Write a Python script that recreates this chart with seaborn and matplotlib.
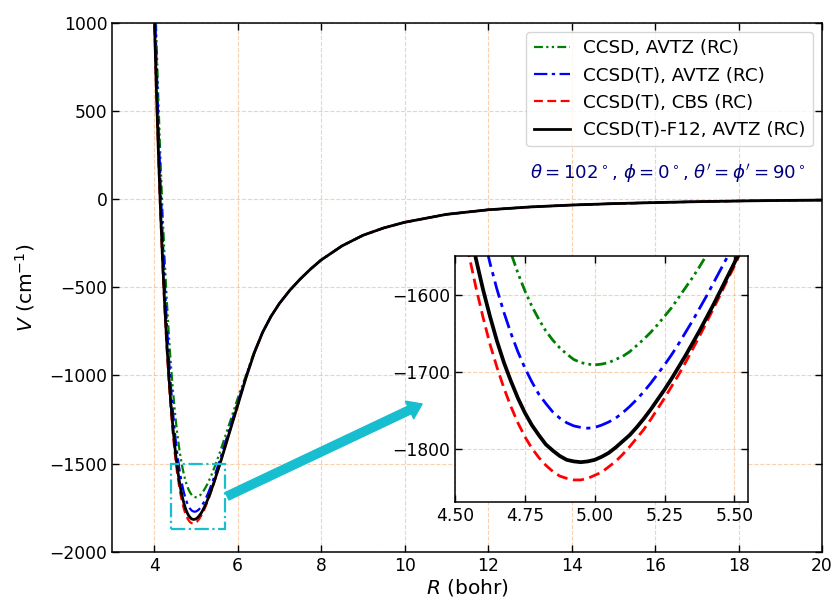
import numpy as np
import pandas as pd
import matplotlib
matplotlib.use("Agg")
import matplotlib.pyplot as plt
import seaborn as sns
from matplotlib.patches import Rectangle

# ---------------- data ----------------
R_core = [3.95, 4.00, 4.05, 4.10, 4.15, 4.20, 4.25, 4.30, 4.35, 4.40, 4.45, 4.50,
          4.525, 4.55, 4.575, 4.60, 4.625, 4.65, 4.675, 4.70, 4.725, 4.75, 4.775,
          4.80, 4.825, 4.85, 4.875, 4.90, 4.925, 4.95, 4.975, 5.00, 5.025, 5.05,
          5.075, 5.10, 5.125, 5.15, 5.175, 5.20, 5.225, 5.25, 5.275, 5.30, 5.325,
          5.35, 5.375, 5.40, 5.425, 5.45, 5.475, 5.50, 5.525, 5.55, 5.575, 5.60,
          5.70, 5.80, 5.90, 6.00, 6.20, 6.40]

V_ccsd_avtz = [1888, 1397, 964, 579, 240, -61, -325, -556, -757, -931, -1081, -1210,
               -1267, -1319, -1366, -1410, -1449, -1485, -1517, -1546, -1572, -1595, -1615,
               -1632, -1647, -1659, -1669, -1677, -1684, -1688, -1690, -1691, -1690, -1688,
               -1684, -1680, -1674, -1666, -1658, -1649, -1639, -1628, -1617, -1604, -1591,
               -1578, -1564, -1549, -1534, -1519, -1503, -1486, -1470, -1453, -1436, -1419,
               -1348, -1276, -1204, -1132, -1000, -864]

V_ccsdt_avtz = [1784, 1290, 850, 461, 118, -184, -449, -680, -880, -1053, -1201, -1327,
                -1382, -1433, -1479, -1521, -1559, -1593, -1623, -1650, -1674, -1695, -1713,
                -1729, -1741, -1752, -1760, -1766, -1770, -1772, -1773, -1772, -1769, -1765,
                -1760, -1753, -1745, -1736, -1726, -1715, -1703, -1691, -1678, -1664, -1649,
                -1634, -1618, -1602, -1585, -1568, -1551, -1533, -1515, -1497, -1479, -1460,
                -1384, -1308, -1231, -1156, -1008, -868]

V_ccsdt_cbs = [1544, 1062, 635, 258, -74, -364, -618, -839, -1029, -1193, -1333, -1450,
               -1502, -1549, -1591, -1629, -1664, -1694, -1721, -1745, -1766, -1784, -1799,
               -1811, -1821, -1829, -1835, -1838, -1840, -1840, -1838, -1834, -1830, -1823,
               -1816, -1807, -1797, -1786, -1775, -1762, -1748, -1734, -1719, -1704, -1688,
               -1671, -1654, -1636, -1618, -1600, -1581, -1563, -1543, -1524, -1505, -1485,
               -1405, -1326, -1249, -1171, -1014, -872]

V_ccsdt_f12 = [1559, 1085, 662, 291, -37, -325, -578, -798, -989, -1152, -1292, -1411,
               -1463, -1511, -1554, -1593, -1628, -1660, -1688, -1712, -1734, -1753, -1769,
               -1782, -1794, -1802, -1809, -1814, -1816, -1817, -1816, -1814, -1810, -1805,
               -1798, -1790, -1782, -1772, -1761, -1749, -1736, -1723, -1709, -1694, -1679,
               -1663, -1647, -1630, -1613, -1595, -1577, -1559, -1540, -1522, -1503, -1484,
               -1407, -1328, -1250, -1172, -1014, -872]

# long-range part (curves coincide)
R_tail = [6.6, 6.8, 7.0, 7.25, 7.5, 7.75, 8.0, 8.5, 9.0, 9.5, 10, 11, 12, 13,
          14, 15, 16, 17, 18, 19, 20]
V_tail = [-755, -665, -592, -517, -453, -396, -345, -265, -205, -163, -131,
          -86, -60, -44, -33, -25, -19, -14, -10, -7, -5]

labels = ["CCSD, AVTZ (RC)", "CCSD(T), AVTZ (RC)", "CCSD(T), CBS (RC)",
          "CCSD(T)-F12, AVTZ (RC)"]
series = [V_ccsd_avtz, V_ccsdt_avtz, V_ccsdt_cbs, V_ccsdt_f12]

x_ticks = [4, 6, 8, 10, 12, 14, 16, 18, 20]
y_ticks = [-2000, -1500, -1000, -500, 0, 500, 1000]
inset_x_ticks = [4.50, 4.75, 5.00, 5.25, 5.50]
inset_y_ticks = [-1800, -1700, -1600]

frames = []
for lab, v in zip(labels, series):
    frames.append(pd.DataFrame({"R": R_core + R_tail, "V": v + V_tail, "method": lab}))
df = pd.concat(frames, ignore_index=True)

# ---------------- styling ----------------
colors = {labels[0]: "green", labels[1]: "blue", labels[2]: "red", labels[3]: "black"}
styles = {labels[0]: (0, (4, 1.5, 1, 1.5, 1, 1.5)),
          labels[1]: (0, (6, 2, 1.5, 2)),
          labels[2]: (0, (4, 2)),
          labels[3]: "-"}
main_lw = {labels[0]: 1.6, labels[1]: 1.6, labels[2]: 1.6, labels[3]: 2.0}
inset_lw = {labels[0]: 2.0, labels[1]: 2.0, labels[2]: 2.0, labels[3]: 2.7}

plt.rcParams["font.family"] = ["DejaVu Sans"]
plt.rcParams["mathtext.fontset"] = "dejavusans"

fig = plt.figure(figsize=(8.34, 6.0), dpi=100)
ax = fig.add_axes([0.1347, 0.0805, 0.851, 0.8812])

grid_kw = dict(color="#f4a460", alpha=0.5, linestyle="--", linewidth=0.8)


def draw(axis, lws):
    for lab in labels:
        sub = df[df["method"] == lab]
        sns.lineplot(data=sub, x="R", y="V", ax=axis, color=colors[lab],
                     linewidth=lws[lab], sort=False, estimator=None, legend=False)
        line = axis.lines[-1]
        line.set_linestyle(styles[lab])
        line.set_label(lab)
        line.set_solid_joinstyle("round")


draw(ax, main_lw)
ax.set_xlim(3, 20)
ax.set_ylim(-2000, 1000)
ax.set_xticks(x_ticks)
ax.set_yticks(y_ticks)
ax.grid(True, **grid_kw)
ax.tick_params(direction="in", length=5, width=1.0, top=True, right=True,
               labelsize=12.3)
for s in ax.spines.values():
    s.set_linewidth(1.1)
ax.set_xlabel(r"$R$ (bohr)", fontsize=14.5, labelpad=2)
ax.set_ylabel(r"$V$ (cm$^{-1}$)", fontsize=14.5, labelpad=9)
ax.legend(loc="upper right", fontsize=13.2, handlelength=2.0, handletextpad=0.7)

ax.text(19.6, 148, r"$\theta=102^\circ$, $\phi=0^\circ$, $\theta'=\phi'=90^\circ$",
        color="navy", fontsize=13.1, ha="right", va="center")

# zoom box and arrow
ax.add_patch(Rectangle((4.4, -1870), 1.3, 370, fill=False,
                       edgecolor="tab:cyan", linestyle="-.", linewidth=1.6, zorder=5))
ax.annotate("", xy=(10.42, -1162), xytext=(5.75, -1685),
            arrowprops=dict(color="tab:cyan", width=6, headwidth=14,
                            headlength=10, shrink=0.0), zorder=6)

# inset
axin = fig.add_axes([0.5456, 0.1628, 0.3517, 0.4105])
draw(axin, inset_lw)
axin.set_xlim(4.5, 5.55)
axin.set_ylim(-1869, -1550)
axin.set_xticks(inset_x_ticks)
axin.set_xticklabels([f"{t:.2f}" for t in inset_x_ticks])
axin.set_yticks(inset_y_ticks)
axin.grid(True, **grid_kw)
axin.tick_params(direction="in", length=5, width=1.0, top=True, right=True,
                 labelsize=12.3)
axin.set_xlabel("")
axin.set_ylabel("")
for s in axin.spines.values():
    s.set_linewidth(1.1)

fig.savefig("out.png", dpi=100)
